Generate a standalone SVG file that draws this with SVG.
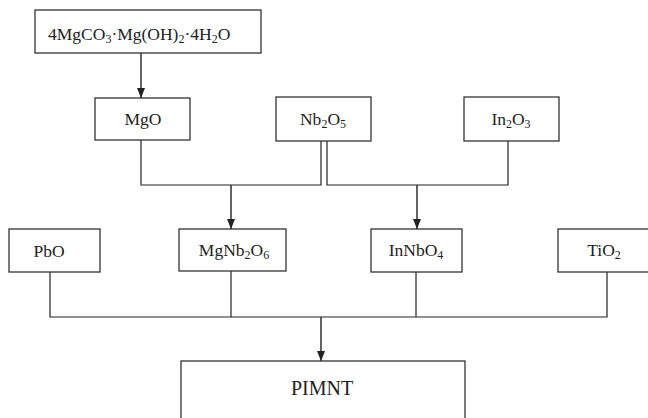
<svg xmlns="http://www.w3.org/2000/svg" width="648" height="418" viewBox="0 0 648 418">
<defs>
<marker id="arr" markerUnits="userSpaceOnUse" markerWidth="10" markerHeight="8" refX="10" refY="4" orient="auto" viewBox="0 0 10 8">
<path d="M0,0 L10,4 L0,8 Z" fill="#222"/>
</marker>
<style>
.box{fill:#fff;stroke:#333;stroke-width:1.3}
.ln{fill:none;stroke:#222;stroke-width:1.2}
.ar{fill:none;stroke:#222;stroke-width:1.4;marker-end:url(#arr)}
text{font-family:"Liberation Serif","Times New Roman",serif;font-size:17.5px;fill:#222}
.c{text-anchor:middle}
.s{font-size:12px}
</style>
</defs>
<rect width="648" height="418" fill="#fff"/>
<g id="connectors">
<polyline class="ln" points="141,140 141,185 321,185 321,141"/>
<polyline class="ln" points="327,141 327,185 508,185 508,141"/>
<polyline class="ln" points="50,272 50,317 607,317 607,272"/>
<line class="ln" x1="231" y1="271" x2="231" y2="317"/>
<line class="ln" x1="416" y1="272" x2="416" y2="317"/>
<line class="ar" x1="141" y1="53" x2="141" y2="98"/>
<line class="ar" x1="231" y1="185" x2="231" y2="229"/>
<line class="ar" x1="417" y1="185" x2="417" y2="229"/>
<line class="ar" x1="321" y1="317" x2="321" y2="361"/>
</g>
<g id="n_carbonate">
<rect class="box" x="35" y="10" width="226" height="43"/>
<text x="48" y="40">4MgCO<tspan class="s" dy="3">3</tspan><tspan dy="-3">·Mg(OH)</tspan><tspan class="s" dy="3">2</tspan><tspan dy="-3">·4H</tspan><tspan class="s" dy="3">2</tspan><tspan dy="-3">O</tspan></text>
</g>
<g id="n_mgo">
<rect class="box" x="95" y="98" width="95" height="42"/>
<text class="c" x="143" y="125">MgO</text>
</g>
<g id="n_nb2o5">
<rect class="box" x="276" y="97" width="95" height="44"/>
<text class="c" x="323" y="125">Nb<tspan class="s" dy="3">2</tspan><tspan dy="-3">O</tspan><tspan class="s" dy="3">5</tspan></text>
</g>
<g id="n_in2o3">
<rect class="box" x="464" y="97" width="95" height="44"/>
<text class="c" x="511" y="125">In<tspan class="s" dy="3">2</tspan><tspan dy="-3">O</tspan><tspan class="s" dy="3">3</tspan></text>
</g>
<g id="n_pbo">
<rect class="box" x="9" y="229" width="91" height="43"/>
<text class="c" x="49" y="257">PbO</text>
</g>
<g id="n_mgnb2o6">
<rect class="box" x="179" y="229" width="107" height="42"/>
<text class="c" x="234" y="256">MgNb<tspan class="s" dy="3">2</tspan><tspan dy="-3">O</tspan><tspan class="s" dy="3">6</tspan></text>
</g>
<g id="n_innbo4">
<rect class="box" x="371" y="229" width="91" height="43"/>
<text class="c" x="416" y="256">InNbO<tspan class="s" dy="3">4</tspan></text>
</g>
<g id="n_tio2">
<rect class="box" x="558" y="229" width="94" height="43"/>
<text class="c" x="604" y="256">TiO<tspan class="s" dy="3">2</tspan></text>
</g>
<g id="n_pimnt">
<rect class="box" x="181" y="361" width="284" height="62"/>
<text class="c" x="322" y="395" style="font-size:20px">PIMNT</text>
</g>
</svg>
